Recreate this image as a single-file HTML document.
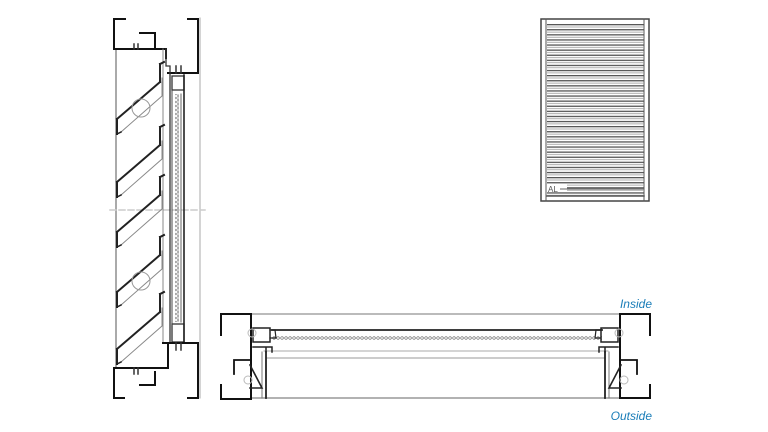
<!DOCTYPE html>
<html><head><meta charset="utf-8"><style>
html,body{margin:0;padding:0;background:#fff;}
svg{display:block}
</style></head><body>
<svg width="768" height="432" viewBox="0 0 768 432" xmlns="http://www.w3.org/2000/svg">
<defs>
<pattern id="slats" x="0" y="24" width="10" height="5.1" patternUnits="userSpaceOnUse">
<rect x="0" y="0" width="10" height="1.3" fill="#555"/>
<rect x="0" y="2.6" width="10" height="0.8" fill="#999"/>
</pattern>
<pattern id="zig" x="0" y="0" width="4" height="4" patternUnits="userSpaceOnUse">
<circle cx="2" cy="2" r="1.3" fill="none" stroke="#666" stroke-width="0.7"/>
</pattern>
<g id="blade">
<path d="M117,37 L117,52 M117,37 L160,0 M160,0 L160,-18 M160,-18 L164,-20" stroke="#222" stroke-width="2" fill="none"/>
<path d="M121,50 L162,14 L162,-4" stroke="#888" stroke-width="1" fill="none"/>
<path d="M117,52 L121,50" stroke="#222" stroke-width="1.5"/>
</g>
</defs>
<g fill="none" stroke-linecap="square">
<!-- LEFT vertical section -->
<line x1="116" y1="50" x2="116" y2="368" stroke="#aaa" stroke-width="2"/>
<line x1="200" y1="18" x2="200" y2="398" stroke="#aaa" stroke-width="1"/>
<line x1="110" y1="210" x2="205" y2="210" stroke="#ccc" stroke-width="1.5" stroke-dasharray="6,3"/>
<!-- top box -->
<path d="M125,19 L114,19 L114,49 L166,49 L166,58 M188,19 L198,19 L198,73 L168,73" stroke="#111" stroke-width="2"/>
<path d="M140,33 L155,33 L155,47" stroke="#111" stroke-width="2"/>
<path d="M134,44 L134,49 M138,44 L138,49 M176,66 L176,73 M181,66 L181,73" stroke="#333" stroke-width="1.5"/>
<path d="M166,49 L166,66 L170,66 L170,343" stroke="#333" stroke-width="1.3"/>
<path d="M163,49 L163,343" stroke="#888" stroke-width="1"/>
<!-- screen column -->
<rect x="172" y="76" width="12" height="14" stroke="#333" stroke-width="1.3"/>
<rect x="172" y="324" width="12" height="18" stroke="#333" stroke-width="1.3"/>
<line x1="184" y1="75" x2="184" y2="343" stroke="#222" stroke-width="1.6"/>
<line x1="172" y1="90" x2="172" y2="325" stroke="#444" stroke-width="1"/>
<rect x="175" y="94" width="4" height="228" fill="url(#zig)" stroke="none"/>
<line x1="181" y1="94" x2="181" y2="322" stroke="#666" stroke-width="1"/>
<!-- blades -->
<use href="#blade" transform="translate(0,82)"/>
<use href="#blade" transform="translate(0,145)"/>
<use href="#blade" transform="translate(0,195)"/>
<use href="#blade" transform="translate(0,255)"/>
<use href="#blade" transform="translate(0,312)"/>
<circle cx="141" cy="108" r="9" stroke="#999" stroke-width="1"/>
<circle cx="141" cy="281" r="9" stroke="#999" stroke-width="1"/>
<!-- bottom box -->
<path d="M163,343 L198,343 L198,398 L188,398 M124,398 L114,398 L114,368 L168,368 L168,343" stroke="#111" stroke-width="2"/>
<path d="M140,385 L155,385 L155,372" stroke="#111" stroke-width="2"/>
<path d="M134,368 L134,374 M138,368 L138,374 M176,343 L176,350 M181,343 L181,350" stroke="#333" stroke-width="1.5"/>

<!-- TOP RIGHT elevation -->
<rect x="541" y="19" width="108" height="182" stroke="#444" stroke-width="1.5"/>
<line x1="546" y1="19" x2="546" y2="201" stroke="#555" stroke-width="1"/>
<line x1="644" y1="19" x2="644" y2="201" stroke="#555" stroke-width="1"/>
<rect x="547" y="24" width="97" height="172" fill="url(#slats)" stroke="none"/>
<rect x="547" y="184" width="20" height="8" fill="#fff" stroke="none"/>
<line x1="547" y1="196" x2="644" y2="196" stroke="#555" stroke-width="1.5"/>

<!-- BOTTOM plan section -->
<line x1="251" y1="314" x2="620" y2="314" stroke="#bbb" stroke-width="2"/>
<line x1="272" y1="330" x2="602" y2="330" stroke="#222" stroke-width="1.8"/>
<rect x="272" y="336" width="330" height="4" fill="url(#zig)" stroke="none"/>
<line x1="264" y1="351" x2="608" y2="351" stroke="#aaa" stroke-width="1"/>
<line x1="267" y1="358" x2="605" y2="358" stroke="#bbb" stroke-width="1.5"/>
<line x1="251" y1="398" x2="620" y2="398" stroke="#999" stroke-width="1.5"/>
<!-- left end -->
<path d="M221,335 L221,314 L251,314 L251,399 L221,399 L221,385" stroke="#111" stroke-width="2"/>
<path d="M234,374 L234,360 L251,360" stroke="#111" stroke-width="1.8"/>
<rect x="253" y="328" width="17" height="14" stroke="#222" stroke-width="1.5"/>
<path d="M270,330 L275,330 L276,338 L270,338" stroke="#222" stroke-width="1.2"/>
<path d="M253,347 L266,347 L266,352 M262,347 L272,347 L272,352" stroke="#222" stroke-width="1.5"/>
<line x1="266" y1="352" x2="266" y2="398" stroke="#222" stroke-width="1.8"/>
<line x1="262" y1="352" x2="262" y2="398" stroke="#777" stroke-width="1"/>
<path d="M250,365 L262,388 L250,388" stroke="#222" stroke-width="1.6"/>
<circle cx="252" cy="333" r="4" stroke="#bbb" stroke-width="1"/>
<circle cx="248" cy="380" r="4" stroke="#bbb" stroke-width="1"/>
<!-- right end -->
<path d="M650,335 L650,314 L620,314 L620,398 L650,398 L650,385" stroke="#111" stroke-width="2"/>
<path d="M637,374 L637,360 L620,360" stroke="#111" stroke-width="1.8"/>
<rect x="601" y="328" width="17" height="14" stroke="#222" stroke-width="1.5"/>
<path d="M601,330 L596,330 L595,338 L601,338" stroke="#222" stroke-width="1.2"/>
<path d="M618,347 L605,347 L605,352 M609,347 L599,347 L599,352" stroke="#222" stroke-width="1.5"/>
<line x1="605" y1="352" x2="605" y2="398" stroke="#222" stroke-width="1.8"/>
<line x1="609" y1="352" x2="609" y2="398" stroke="#777" stroke-width="1"/>
<path d="M621,365 L609,388 L621,388" stroke="#222" stroke-width="1.6"/>
<circle cx="619" cy="333" r="4" stroke="#bbb" stroke-width="1"/>
<circle cx="624" cy="380" r="4" stroke="#bbb" stroke-width="1"/>
</g>
<text x="548" y="192" font-family="Liberation Sans, sans-serif" font-size="8" fill="#555">AL</text>
<line x1="560" y1="189" x2="644" y2="189" stroke="#666" stroke-width="1"/>
<text x="652" y="308" text-anchor="end" font-family="Liberation Sans, sans-serif" font-style="italic" font-size="12" fill="#1a7db8">Inside</text>
<text x="652" y="420" text-anchor="end" font-family="Liberation Sans, sans-serif" font-style="italic" font-size="12" fill="#1a7db8">Outside</text>
</svg>
</body></html>
